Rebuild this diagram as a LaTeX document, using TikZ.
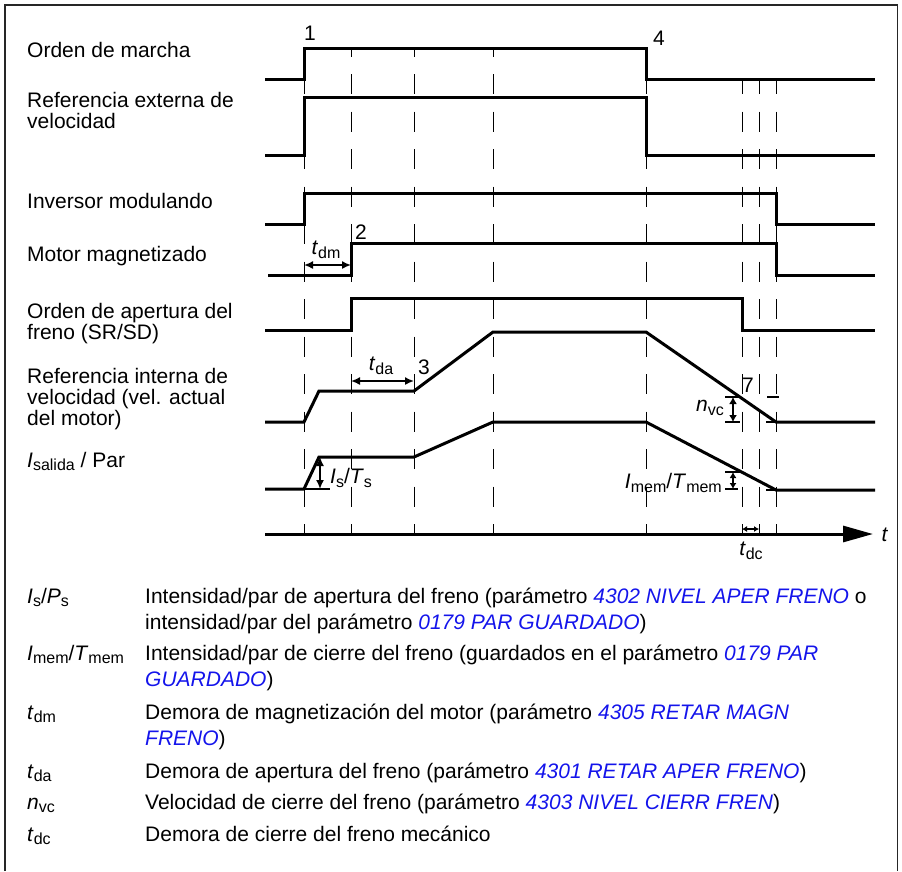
\documentclass[tikz,border=0pt]{standalone}
\usepackage{fontspec}
\setmainfont{Liberation Sans}
\usepackage{xcolor}
\usepackage{tikz}
\usetikzlibrary{arrows.meta}
\definecolor{parblue}{RGB}{20,20,235}
\newcommand{\vsub}[2]{\textit{#1}\raisebox{-3.5pt}{\fontsize{16}{16}\selectfont #2}}
\newcommand{\param}[1]{\textcolor{parblue}{\textit{#1}}}

\begin{document}
\begin{tikzpicture}[x=1pt,y=-1pt,
    sig/.style={line width=3pt},
    guide/.style={line width=0.9pt,dash pattern=on 20pt off 17.5pt},
    dimarrow/.style={line width=1.6pt,{Latex[length=9pt,width=8pt]}-{Latex[length=9pt,width=8pt]}},
    tickmark/.style={line width=1.6pt},
    txt/.style={inner sep=0pt,font=\fontsize{21}{21}\selectfont},
    lbl/.style={txt,anchor=base west,align=left},
    leg/.style={inner sep=0pt,anchor=base west,align=left,font=\fontsize{21}{26}\selectfont}]
  \useasboundingbox (0,0) rectangle (902,871);
  \draw[line width=1.2pt,black!85] (5,871) -- (5,5) -- (897.5,5) -- (897.5,871);
  \foreach \xg/\yg/\ph in {304/48/11.5,351/48/11.5,414/48/11.5,493/48/11.5,646/79/5,742/79/5,759/79/5,776/79/5}
    \draw[guide,dash phase=\ph] (\xg,\yg) -- (\xg,534);
  \draw[sig] (265,79) -- (304,79) -- (304,48) -- (646,48) -- (646,79) -- (875,79);
  \draw[sig] (265,155) -- (304,155) -- (304,97) -- (646,97) -- (646,155) -- (875,155);
  \draw[sig] (265,224) -- (304,224) -- (304,193) -- (776,193) -- (776,224) -- (875,224);
  \draw[sig] (268,275) -- (351,275) -- (351,243) -- (776,243) -- (776,275) -- (875,275);
  \draw[sig] (265,330) -- (351,330) -- (351,298) -- (742,298) -- (742,330) -- (875,330);
  \draw[sig] (265,422) -- (304,422) -- (319,391) -- (414,391) -- (493,332) -- (646,332) -- (776,422) -- (875,422);
  \draw[sig] (265,489) -- (304,489) -- (319,457) -- (414,457) -- (493,422) -- (646,422) -- (776,490) -- (875,490);
  \draw[sig,-{Triangle[length=30pt,width=16pt]}] (265,534) -- (873,534);
  \draw[dimarrow] (304,265) -- (351,265);
  \draw[dimarrow] (351,381) -- (414,381);
  \draw[tickmark] (304,489) -- (330,489);
  \draw[dimarrow] (320,457) -- (320,489);
  \draw[tickmark] (725,397) -- (740,397) (725,422) -- (740,422);
  \draw[dimarrow,{Latex[length=7pt,width=8pt]}-{Latex[length=7pt,width=8pt]}] (733,397) -- (733,422);
  \draw[tickmark] (725,472) -- (741,472) (725,489) -- (738,489);
  \draw[dimarrow,{Latex[length=6pt,width=7pt]}-{Latex[length=6pt,width=7pt]}] (733,472) -- (733,489);
  \draw[tickmark] (767,397) -- (779,397) (766,422) -- (776,422) (766,490) -- (776,490);
  \draw[line width=1.2pt,{Latex[length=5pt,width=6pt]}-{Latex[length=5pt,width=6pt]}] (742,529) -- (759,529);
  \node[lbl] (lMarcha) at (27,57.5) {Orden de marcha};
  \node[lbl] (lRefExt) at (27,128.7) {Referencia externa de\\velocidad};
  \node[lbl] (lInv) at (27,208.7) {Inversor modulando};
  \node[lbl] (lMag) at (27,261.3) {Motor magnetizado};
  \node[lbl] (lFreno) at (27,339.7) {Orden de apertura del\\freno (SR/SD)};
  \node[lbl] (lRefInt) at (27,425.7) {Referencia interna de\\velocidad (vel. actual\\del motor)};
  \node[lbl] (lPar) at (27,467) {\vsub{I}{salida} / Par};
  \node[txt] (one) at (310,33) {1};
  \node[txt] (two) at (361,232) {2};
  \node[txt] (three) at (424,367) {3};
  \node[txt] (four) at (659,38) {4};
  \node[txt] (seven) at (748,385) {7};
  \node[txt] (tdm) at (326,250) {\vsub{t}{dm}};
  \node[txt] (tda) at (381,366) {\vsub{t}{da}};
  \node[txt,anchor=west] (isTs) at (330,478) {\vsub{I}{s}/\vsub{T}{s}};
  \node[txt,anchor=east] (nvc) at (724,408) {\vsub{n}{vc}};
  \node[txt,anchor=east] (imem) at (722,483) {\vsub{I}{mem}/\vsub{T}{mem}};
  \node[txt] (tdc) at (751,551) {\vsub{t}{dc}};
  \node[txt] (taxis) at (885,535) {\textit{t}};
  \node[leg] (sIs) at (27,603) {\vsub{I}{s}/\vsub{P}{s}};
  \node[leg] (dIs) at (145,629) {Intensidad/par de apertura del freno (parámetro \param{4302 NIVEL APER FRENO} o\\intensidad/par del parámetro \param{0179 PAR GUARDADO})};
  \node[leg] (sImem) at (27,660) {\vsub{I}{mem}/\vsub{T}{mem}};
  \node[leg] (dImem) at (145,686) {Intensidad/par de cierre del freno (guardados en el parámetro \param{0179 PAR}\\\param{GUARDADO})};
  \node[leg] (sTdm) at (27,719) {\vsub{t}{dm}};
  \node[leg] (dTdm) at (145,745) {Demora de magnetización del motor (parámetro \param{4305 RETAR MAGN}\\\param{FRENO})};
  \node[leg] (sTda) at (27,778) {\vsub{t}{da}};
  \node[leg] (dTda) at (145,778) {Demora de apertura del freno (parámetro \param{4301 RETAR APER FRENO})};
  \node[leg] (sNvc) at (27,809) {\vsub{n}{vc}};
  \node[leg] (dNvc) at (145,809) {Velocidad de cierre del freno (parámetro \param{4303 NIVEL CIERR FREN})};
  \node[leg] (sTdc) at (27,841) {\vsub{t}{dc}};
  \node[leg] (dTdc) at (145,841) {Demora de cierre del freno mecánico};
\end{tikzpicture}
\end{document}
